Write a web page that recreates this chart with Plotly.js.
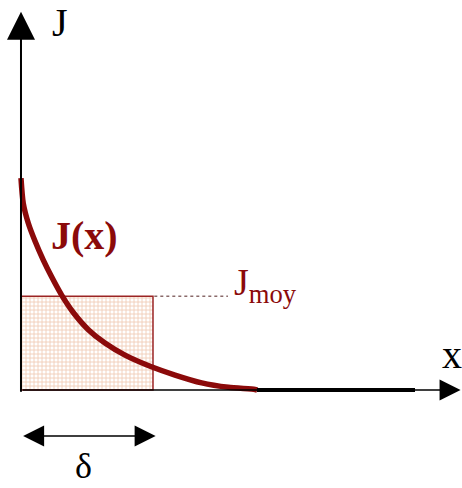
<!DOCTYPE html>
<html>
<head>
<meta charset="utf-8">
<script src="https://cdn.plot.ly/plotly-3.0.1.min.js"></script>
<style>
  html, body { margin: 0; padding: 0; background: #fff; }
  #chart { width: 462px; height: 488px; }
</style>
</head>
<body>
<div id="chart"></div>
<script>
// x in units of delta, J in units of J(0)
var curveX = [0, 0.017, 0.055, 0.106, 0.169, 0.233, 0.308, 0.396, 0.510, 0.636, 0.788, 0.964, 1.167, 1.369, 1.571, 1.773, 1.79];
var curveJ = [1.0, 0.882, 0.788, 0.703, 0.613, 0.533, 0.448, 0.366, 0.285, 0.222, 0.165, 0.116, 0.071, 0.034, 0.013, 0.003, 0];

var delta = 1.0;
var jMoy = 0.443;
var tailX = [1.788, 2.985];
var tailJ = [0, 0];

var darkRed = '#8b0a0a';
var serif = 'Liberation Serif, Times New Roman, serif';

var rect = {
  type: 'bar',
  x: [delta / 2],
  y: [jMoy],
  width: [delta],
  marker: {
    color: '#ffffff',
    line: {color: '#9b2424', width: 1.5},
    pattern: {shape: '+', fgcolor: '#f0cdb8', bgcolor: '#ffffff', size: 4, solidity: 0.4}
  },
  hoverinfo: 'skip',
  showlegend: false
};

var curve = {
  x: curveX,
  y: curveJ,
  mode: 'lines',
  line: {color: darkRed, width: 5.5, shape: 'spline', smoothing: 0.7},
  hoverinfo: 'skip',
  showlegend: false
};

var tail = {
  x: tailX,
  y: tailJ,
  mode: 'lines',
  line: {color: '#000', width: 4},
  hoverinfo: 'skip',
  showlegend: false
};

function arrow(x0, y0, x1, y1, side, w, s) {
  return {
    x: x1, y: y1, ax: x0, ay: y0,
    xref: 'x', yref: 'y', axref: 'x', ayref: 'y',
    text: '', showarrow: true,
    arrowhead: 2, arrowsize: s || 2.6, arrowwidth: w || 1.6,
    arrowside: side || 'end',
    arrowcolor: '#000'
  };
}

var layout = {
  width: 462,
  height: 488,
  margin: {l: 0, r: 0, t: 0, b: 0},
  paper_bgcolor: '#fff',
  plot_bgcolor: '#fff',
  xaxis: {range: [-0.159, 3.341], visible: false, fixedrange: true},
  yaxis: {range: [-0.462, 1.840], visible: false, fixedrange: true},
  shapes: [
    {type: 'line', xref: 'x', yref: 'y', x0: delta + 0.01, x1: 1.568, y0: jMoy, y1: jMoy,
     line: {color: '#8a6a6a', width: 1.5, dash: 'dot'}}
  ],
  annotations: [
    arrow(0, -0.015, 0, 1.785, 'end', 2, 2.8),
    arrow(0, 0, 3.33, 0, 'end', 1.5, 2.8),
    arrow(0.005, -0.217, 1.02, -0.217, 'end+start', 1.5, 2.8),
    {x: 0.295, y: 1.736, xref: 'x', yref: 'y', text: 'J', showarrow: false,
     font: {family: serif, size: 40, color: '#000'}},
    {x: 0.48, y: 0.73, xref: 'x', yref: 'y', text: '<b>J(x)</b>', showarrow: false,
     font: {family: serif, size: 40, color: darkRed}},
    {x: 1.598, y: 0.495, xref: 'x', yref: 'y', text: 'J<sub>moy</sub>', showarrow: false,
     xanchor: 'left', font: {family: serif, size: 38, color: darkRed}},
    {x: 3.265, y: 0.17, xref: 'x', yref: 'y', text: 'x', showarrow: false,
     font: {family: serif, size: 40, color: '#000'}},
    {x: 0.477, y: -0.46, xref: 'x', yref: 'y', yanchor: 'bottom', text: '\u03b4', showarrow: false,
     font: {family: serif, size: 36, color: '#000'}}
  ]
};

Plotly.newPlot('chart', [rect, curve, tail], layout, {staticPlot: true});
</script>
</body>
</html>
